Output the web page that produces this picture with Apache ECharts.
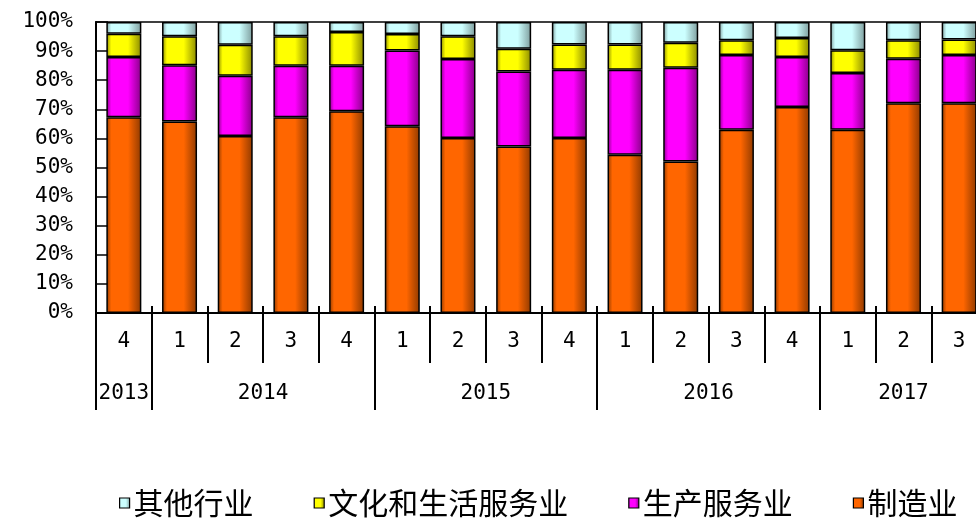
<!DOCTYPE html>
<html>
<head>
<meta charset="utf-8">
<script src="https://cdn.jsdelivr.net/npm/echarts@6/dist/echarts.min.js"></script>
<style>
  html, body { margin: 0; padding: 0; background: #fff; overflow: hidden; }
  #chart { width: 976px; height: 520px; }
</style>
</head>
<body>
<div id="chart"></div>
<script>
// Quarterly share of each industry (%), 2013 Q4 – 2017 Q3
const quarters = ['4', '1', '2', '3', '4', '1', '2', '3', '4', '1', '2', '3', '4', '1', '2', '3'];
const years = ['2013', '2014', '2015', '2016', '2017'];
const quartersPerYear = [1, 4, 4, 4, 3];
const yTicks = [0, 10, 20, 30, 40, 50, 60, 70, 80, 90, 100];

const manufacturing = [67.3, 65.8, 60.8, 67.3, 69.3, 64.2, 60.1, 57.2, 60.1, 54.4, 52.1, 63.0, 70.8, 63.0, 72.1, 72.1];
const producerServices = [20.7, 19.3, 20.7, 17.7, 15.7, 26.0, 27.2, 25.8, 23.5, 29.2, 32.2, 25.7, 17.2, 19.5, 15.3, 16.6];
const lifeServices = [8.0, 10.0, 10.7, 10.1, 11.6, 5.7, 7.8, 7.8, 8.7, 8.7, 8.6, 5.0, 6.5, 7.8, 6.3, 5.3];
const otherIndustries = [4.0, 4.9, 7.8, 4.9, 3.4, 4.1, 4.9, 9.2, 7.7, 7.7, 7.1, 6.3, 5.5, 9.7, 6.3, 6.0];

const seriesNames = ['制造业', '生产服务业', '文化和生活服务业', '其他行业'];
const legendOrder = ['其他行业', '文化和生活服务业', '生产服务业', '制造业'];

// Year group boundaries and label centres along the category scale
const yearBounds = [0];
quartersPerYear.forEach(n => yearBounds.push(yearBounds[yearBounds.length - 1] + n));
const yearCenters = quartersPerYear.map((n, i) => yearBounds[i] + n / 2);

// Shaded column fill: darker at both edges
function shade(dark, base) {
  return new echarts.graphic.LinearGradient(0, 0, 1, 0, [
    { offset: 0, color: dark },
    { offset: 0.14, color: base },
    { offset: 0.62, color: base },
    { offset: 1, color: dark }
  ]);
}

const fills = [
  shade('#8f3a00', '#ff6600'),
  shade('#880088', '#ff00ff'),
  shade('#8a8a00', '#ffff00'),
  shade('#7d9c9c', '#ccffff')
];
const values = [manufacturing, producerServices, lifeServices, otherIndustries];

const axisFont = { fontFamily: 'DejaVu Sans Mono', fontSize: 21, color: '#000' };

const chart = echarts.init(document.getElementById('chart'), null, { renderer: 'canvas' });
chart.setOption({
  animation: false,
  backgroundColor: '#fff',
  // plot area runs slightly past the right edge of the canvas
  grid: {
    left: 96, top: 22, width: 891, height: 291,
    outerBoundsMode: 'none',
    containLabel: false,
    show: true, borderColor: '#000', borderWidth: 1.5, backgroundColor: 'transparent'
  },
  legend: {
    data: legendOrder,
    left: 114, top: 483,
    itemWidth: 10, itemHeight: 10, itemGap: 60,
    icon: 'rect',
    itemStyle: { borderColor: '#000', borderWidth: 1.2 },
    textStyle: { fontFamily: 'Noto Sans CJK SC', fontSize: 30, color: '#000', padding: [0, 0, 0, -1] }
  },
  xAxis: [
    {
      type: 'category',
      data: quarters,
      position: 'bottom',
      axisLine: { lineStyle: { color: '#000', width: 2 } },
      axisTick: { show: true, interval: 0, length: 50, lineStyle: { color: '#000', width: 2 } },
      axisLabel: Object.assign({ interval: 0, margin: 18 }, axisFont),
      splitLine: { show: false }
    },
    {
      type: 'value',
      min: 0, max: yearBounds[yearBounds.length - 1],
      position: 'bottom',
      axisLine: { show: false },
      axisTick: { show: true, customValues: yearBounds.slice(0, -1), length: 97, lineStyle: { color: '#000', width: 2 } },
      axisLabel: Object.assign({
        margin: 70,
        customValues: yearCenters,
        formatter: v => years[yearCenters.indexOf(v)] || ''
      }, axisFont),
      splitLine: { show: false }
    },
    {
      type: 'category',
      data: quarters,
      position: 'bottom',
      axisLine: { show: false },
      axisTick: { show: true, inside: true, interval: 0, length: 7, lineStyle: { color: '#000', width: 2 } },
      axisLabel: { show: false },
      splitLine: { show: false }
    }
  ],
  yAxis: {
    type: 'value',
    min: yTicks[0], max: yTicks[yTicks.length - 1], interval: 10,
    axisLine: { show: true, lineStyle: { color: '#000', width: 2 } },
    axisTick: { show: true, inside: true, length: 12, lineStyle: { color: '#000', width: 1.5 } },
    axisLabel: Object.assign({ formatter: '{value}%', margin: 23 }, axisFont),
    splitLine: { show: false }
  },
  series: seriesNames.map((name, i) => ({
    name,
    type: 'bar',
    stack: 'share',
    xAxisIndex: 0,
    barWidth: 35,
    data: values[i],
    itemStyle: { color: fills[i], borderColor: '#000', borderWidth: 1.5 }
  }))
});
</script>
</body>
</html>
